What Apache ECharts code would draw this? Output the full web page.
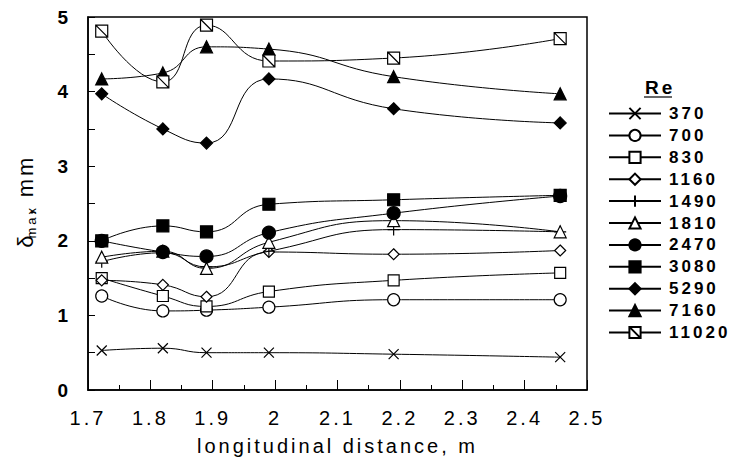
<!DOCTYPE html>
<html><head><meta charset="utf-8">
<script src="https://cdn.jsdelivr.net/npm/echarts@6/dist/echarts.min.js"></script>
<style>
html,body{margin:0;padding:0;background:#fff;}
#c{width:733px;height:461px;}
#c text{letter-spacing:3px;}
</style></head><body><div id="c"></div>
<script>
// x positions (longitudinal distance, m)
const xPos = [1.722, 1.82, 1.89, 1.99, 2.19, 2.457];
const reNames = ['370','700','830','1160','1490','1810','2470','3080','5290','7160','11020'];
const v370   = [0.53, 0.56, 0.50, 0.50, 0.48, 0.44];
const v700   = [1.26, 1.06, 1.07, 1.11, 1.21, 1.21];
const v830   = [1.50, 1.26, 1.12, 1.32, 1.47, 1.57];
const v1160  = [1.47, 1.41, 1.25, 1.85, 1.82, 1.87];
const v1490  = [1.72, 1.84, 1.65, 1.86, 2.15, 2.12];
const v1810  = [1.78, 1.86, 1.63, 1.98, 2.27, 2.12];
const v2470  = [2.00, 1.85, 1.79, 2.11, 2.37, 2.60];
const v3080  = [2.00, 2.20, 2.12, 2.49, 2.55, 2.61];
const v5290  = [3.97, 3.50, 3.31, 4.17, 3.77, 3.58];
const v7160  = [4.17, 4.25, 4.60, 4.57, 4.20, 3.97];
const v11020 = [4.81, 4.13, 4.89, 4.41, 4.45, 4.71];
const xMin = 1.7, xMax = 2.5, xStep = 0.1;
const yMin = 0, yMax = 5, yStep = 1;

const values = [v370, v700, v830, v1160, v1490, v1810, v2470, v3080, v5290, v7160, v11020];
const FONT = '"Liberation Sans", Arial, sans-serif';
const sym = {
  cross: 'path://M0,0L10,10M10,0L0,10',
  plus: 'path://M5,0L5,10M0,5L10,5',
  hatchSquare: 'path://M0,0H10V10H0ZM0,0L10,10'
};
const styles = [
  {symbol: sym.cross, size: 10, fill: '#000'},
  {symbol: 'circle', size: 12, fill: '#fff'},
  {symbol: 'rect', size: 11, fill: '#fff'},
  {symbol: 'diamond', size: 11, fill: '#fff'},
  {symbol: sym.plus, size: 12, fill: '#000'},
  {symbol: 'triangle', size: 12, fill: '#fff'},
  {symbol: 'circle', size: 13, fill: '#000'},
  {symbol: 'rect', size: 12, fill: '#000'},
  {symbol: 'diamond', size: 12, fill: '#000'},
  {symbol: 'triangle', size: 12, fill: '#000'},
  {symbol: sym.hatchSquare, size: 12, fill: '#fff'}
];

const series = reNames.map((name, i) => ({
  name, type: 'line', smooth: true,
  data: xPos.map((x, j) => [x, values[i][j]]),
  symbol: styles[i].symbol, symbolSize: styles[i].size,
  lineStyle: {color: '#000', width: 1},
  itemStyle: {color: styles[i].fill, borderColor: '#000', borderWidth: 1.2},
  emphasis: {disabled: true},
  z: 2 + i
}));

const chart = echarts.init(document.getElementById('c'), null, {renderer: 'svg'});
chart.setOption({
  animation: false,
  backgroundColor: '#fff',
  grid: {left: 88, top: 17, width: 499, height: 375, show: true, borderColor: '#000', borderWidth: 1.5, backgroundColor: 'transparent'},
  xAxis: {
    type: 'value', min: xMin, max: xMax, interval: xStep,
    name: 'longitudinal distance, m', nameLocation: 'middle', nameGap: 46,
    nameTextStyle: {fontFamily: FONT, fontSize: 20, color: '#000'},
    axisLine: {onZero: false, lineStyle: {color: '#000', width: 1.5}},
    axisTick: {inside: true, length: 10, lineStyle: {color: '#000', width: 1}},
    minorTick: {show: true, splitNumber: 2, length: 5, lineStyle: {color: '#000', width: 1}},
    splitLine: {show: false}, minorSplitLine: {show: false},
    axisLabel: {color: '#000', fontFamily: FONT, fontSize: 20, margin: 18,
      formatter: v => String(Math.round(v * 10) / 10)}
  },
  yAxis: {
    type: 'value', min: yMin, max: yMax, interval: yStep,
    name: '{a|δ}{b|max}{a|, mm}', nameLocation: 'middle', nameGap: 50, nameRotate: 90,
    nameTextStyle: {color: '#000', rich: {
      a: {fontFamily: FONT, fontSize: 22, lineHeight: 26, color: '#000'},
      b: {fontFamily: FONT, fontSize: 13, lineHeight: 14, verticalAlign: 'bottom', color: '#000'}
    }},
    axisLine: {lineStyle: {color: '#000', width: 1.5}},
    axisTick: {inside: true, length: 7, lineStyle: {color: '#000', width: 1}},
    minorTick: {show: true, splitNumber: 2, length: 7, lineStyle: {color: '#000', width: 1}},
    splitLine: {show: false}, minorSplitLine: {show: false},
    axisLabel: {color: '#000', fontFamily: FONT, fontSize: 19, fontWeight: 'bold', margin: 17}
  },
  legend: {
    data: reNames, orient: 'vertical', left: 603, top: 100, padding: 5,
    itemWidth: 52, itemHeight: 14, itemGap: 4.9, selectedMode: false,
    textStyle: {fontFamily: FONT, fontSize: 17, fontWeight: 'bold', color: '#000', padding: [0, 0, 0, 3]}
  },
  graphic: [
    {type: 'text', left: 645, top: 78, style: {text: 'Re', font: 'bold 19px ' + FONT, fill: '#000'}},
    {type: 'line', shape: {x1: 644, y1: 97, x2: 672, y2: 97}, style: {stroke: '#000', lineWidth: 1.2}}
  ],
  series
});
</script></body></html>
